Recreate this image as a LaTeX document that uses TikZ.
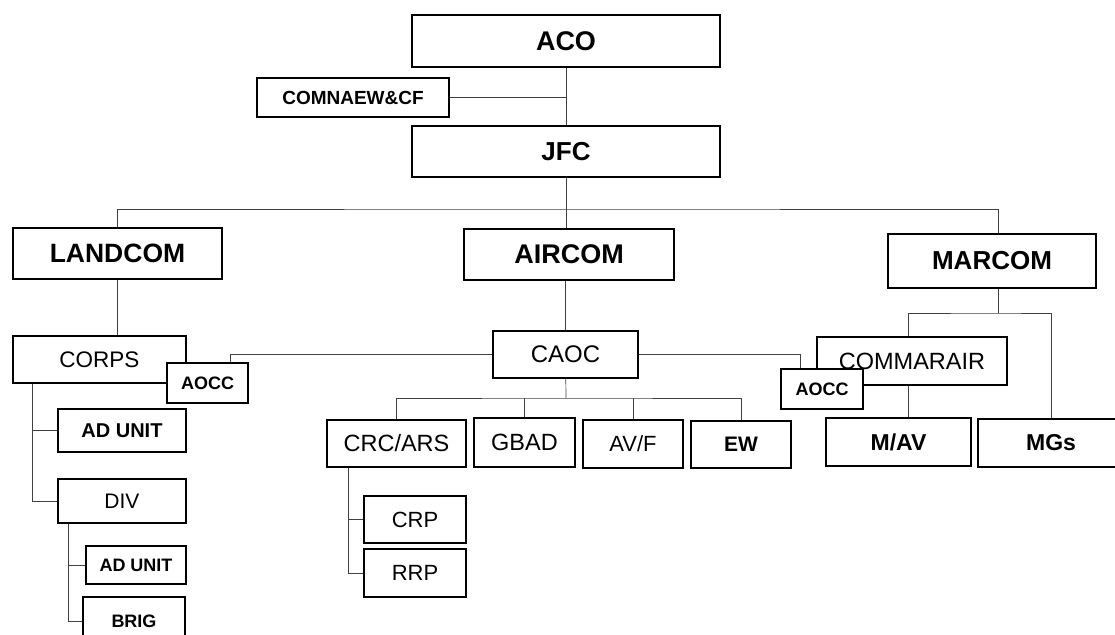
\documentclass[tikz,border=0pt]{standalone}
\usepackage{fontspec}
\setmainfont{Liberation Sans}
\usetikzlibrary{calc,positioning}

\begin{document}
\begin{tikzpicture}[x=1pt,y=-1pt,
  unit/.style={draw, fill=white, line width=1.1pt, inner sep=0pt},
  sz/.style 2 args={minimum width=#1pt, minimum height=#2pt},
  link/.style={draw=black!75, line width=0.7pt},
  bf/.style={font=\fontsize{#1}{#1}\selectfont\bfseries},
  rm/.style={font=\fontsize{#1}{#1}\selectfont}]

    \useasboundingbox (0,0) rectangle (1115,634);
    \clip (0,0) rectangle (1115,634);

    % top of the chain
    \node[unit, sz={308}{52}, bf=27] (ACO) at (566,41) {ACO};
    \node[unit, sz={192}{39}, bf=19] (COMNAEW) at (353,97.5) {COMNAEW\&CF};
    \node[unit, sz={308}{51}, bf=26] (JFC) at (566,151.5) {JFC};

    % component commands
    \node[unit, sz={209}{51}, bf=26.5] (LANDCOM) at (117.5,253.5) {LANDCOM};
    \node[unit, sz={210}{51}, bf=27] (AIRCOM) at (569,254.5) {AIRCOM};
    \node[unit, sz={208}{54}, bf=26] (MARCOM) at (992,261) {MARCOM};

    % land side
    \node[unit, sz={173}{47}, rm=22.5] (CORPS) at (99.5,359.5) {CORPS};
    \node[unit, sz={81}{40}, bf=18] (AOCCa) at (207.5,383) {AOCC};
    \node[unit, sz={128}{43}, bf=20] (ADUa) at (122,430.5) {AD UNIT};
    \node[unit, sz={128}{44}, rm=21] (DIV) at (122,501) {DIV};
    \node[unit, sz={100}{38}, bf=18] (ADUb) at (136,565) {AD UNIT};
    \node[unit, sz={102}{48}, bf=18] (BRIG) at (134,621) {BRIG};

    % air side
    \node[unit, sz={145}{47}, rm=24] (CAOC) at (565.5,354.5) {CAOC};
    \node[unit, sz={139}{47}, rm=23.5] (CRCARS) at (396.5,443.5) {CRC/ARS};
    \node[unit, sz={101}{49}, rm=23.5] (GBAD) at (524.5,442.5) {GBAD};
    \node[unit, sz={100}{48}, rm=22] (AVF) at (633,444) {AV/F};
    \node[unit, sz={100}{47}, bf=21] (EW) at (741,444.5) {EW};
    \node[unit, sz={102}{47}, rm=22] (CRP) at (415,519.5) {CRP};
    \node[unit, sz={102}{48}, rm=22] (RRP) at (415,573) {RRP};

    % maritime side
    \node[unit, sz={190}{48}, rm=23.5] (COMMARAIR) at (912,361) {COMMARAIR};
    \node[unit, sz={82}{40}, bf=18] (AOCCb) at (822,389) {AOCC};
    \node[unit, sz={145}{48}, bf=23] (MAV) at (898.5,442) {M/AV};
    \node[unit, sz={146}{48}, bf=23] (MGs) at (1051,443) {MGs};

    \coordinate (jbus) at (566,209);
    \coordinate (cbus) at (566,398);
    \coordinate (mbus) at (992,313);

    \draw[link] (ACO) -- (JFC);
    \draw[link] (COMNAEW) -- (COMNAEW -| JFC);
    \draw[link] (JFC) -- (jbus);
    \draw[link] (LANDCOM.north) |- (jbus) -| ([xshift=6pt]MARCOM.north);
    \draw[link] (jbus) -- (jbus |- AIRCOM.north);

	\draw[link] (LANDCOM.south) -- (LANDCOM.south |- CORPS.north);
	\draw[link] (CAOC.north |- AIRCOM.south) -- (CAOC.north);
	\draw[link] (CAOC.west) -| ([xshift=23pt]AOCCa.north);
	\draw[link] (CAOC.east) -| ([xshift=-22pt]AOCCb.north);

	% CAOC subordinates
	\draw[link] (CAOC) -- (cbus);
	\draw[link] (CRCARS.north) |- (cbus) -| (EW.north);
	\draw[link] (cbus -| GBAD.north) -- (GBAD.north);
	\draw[link] (cbus -| AVF.north) -- (AVF.north);
	\coordinate (ctrunk) at ([xshift=-48pt]CRCARS.south);
	\draw[link] (ctrunk) |- (RRP);
	\draw[link] (ctrunk |- CRP) -- (CRP);

	% CORPS and DIV subordinates
	\coordinate (ltrunk) at ([xshift=-67pt]CORPS.south);
	\draw[link] (ltrunk) |- (DIV);
	\draw[link] (ltrunk |- ADUa) -- (ADUa);
	\coordinate (dtrunk) at ([xshift=-54pt]DIV.south);
	\draw[link] (dtrunk) |- (BRIG);
	\draw[link] (dtrunk |- ADUb) -- (ADUb);

	% MARCOM subordinates
	\draw[link] ([xshift=6pt]MARCOM.south) -- ([xshift=6pt]MARCOM.south |- mbus);
	\draw[link] ([xshift=-4pt]COMMARAIR.north) |- (mbus) -| (MGs.north);
	\draw[link] ([xshift=-4pt]COMMARAIR.south) -- ([xshift=-4pt]COMMARAIR.south |- MAV.north);

\end{tikzpicture}
\end{document}
